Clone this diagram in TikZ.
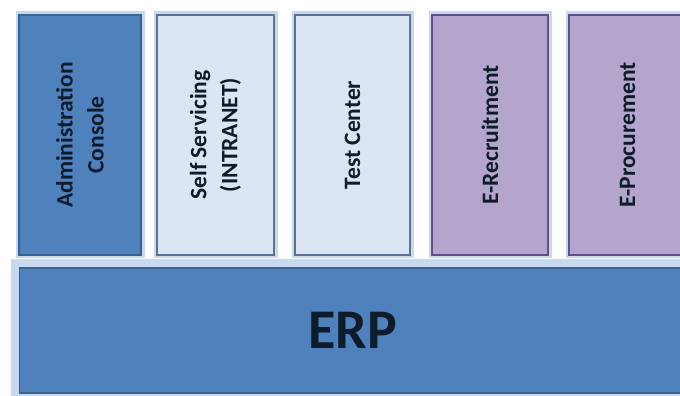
\documentclass[tikz,border=0pt]{standalone}
\usepackage{fontspec}
\setmainfont{Carlito}
\definecolor{erpblue}{HTML}{4F81BD}
\definecolor{erpline}{HTML}{3A6391}
\definecolor{lightfill}{HTML}{DCE6F2}
\definecolor{lightline}{HTML}{5B7191}
\definecolor{purplefill}{HTML}{B4A5CD}
\definecolor{purpleline}{HTML}{5D4E8C}
\definecolor{glowc}{HTML}{C6D9F1}
\definecolor{txtc}{HTML}{0D1B2A}
\begin{document}
\begin{tikzpicture}[x=1pt, y=1pt,
    module/.style={rotate=90, minimum width=240pt, minimum height=117pt, inner sep=0pt,
        line width=1.3pt, align=center, text=txtc,
        font=\bfseries\fontsize{23.5}{31}\selectfont,
        preaction={draw=glowc, line width=7pt}},
    bluemod/.style={module, fill=erpblue, draw=erpline},
    lightmod/.style={module, fill=lightfill, draw=lightline},
    purplemod/.style={module, fill=purplefill, draw=purpleline},
    base/.style={minimum width=666.5pt, minimum height=125pt, inner sep=0pt,
        fill=erpblue, draw=erpline, line width=1.3pt, text=txtc,
        font=\bfseries\fontsize{56}{60}\selectfont,
        preaction={draw=glowc, line width=18pt}}]
    \useasboundingbox (0,0) rectangle (680,396);
    \fill[white] (0,0) rectangle (680,396);
    \clip (0,0) rectangle (680,396);
    % platform
    \node[base] (erp) at (352.75,65.5) {ERP};
    % modules on top
    \node[bluemod, minimum height=122pt] (admin) at (80,261) {Administration\\Console};
    \node[lightmod] (self) at (215.5,261) {Self Servicing\\(INTRANET)};
    \node[lightmod, minimum height=115pt] (test) at (352.5,261) {Test Center};
    \node[purplemod, minimum height=116pt] (erec) at (490,261) {E-Recruitment};
    \node[purplemod] (eproc) at (627.5,261) {E-Procurement};
\end{tikzpicture}
\end{document}
